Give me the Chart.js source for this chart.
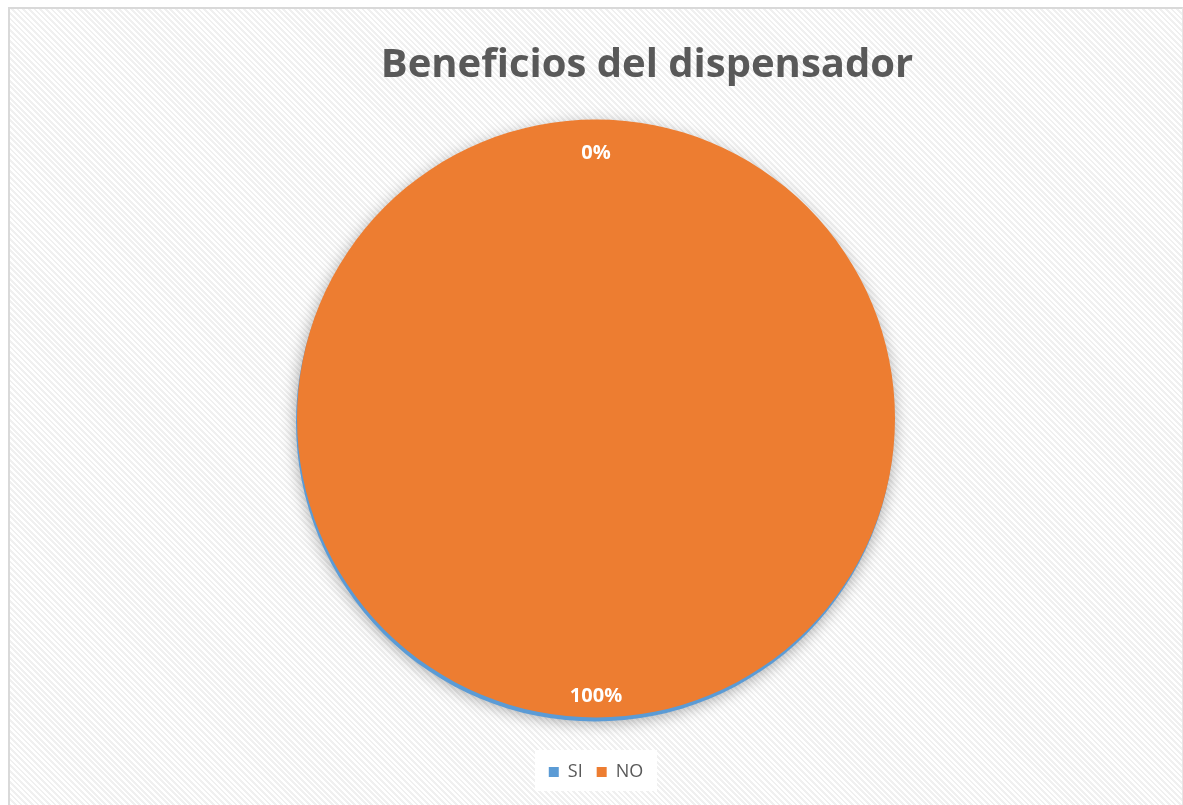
<!DOCTYPE html>
<html>
<head>
<meta charset="utf-8">
<script src="https://cdn.jsdelivr.net/npm/chart.js@4.4.0/dist/chart.umd.min.js"></script>
<style>
  html, body { margin: 0; padding: 0; width: 1183px; height: 805px; overflow: hidden; background: #ffffff; }
  #frame {
    position: absolute; left: 8px; top: 7px; width: 1172px; height: 800px;
    border-left: 2px solid #d9d9d9; border-top: 2px solid #d9d9d9; border-right: 1px solid #e6e6e6;
    background: repeating-linear-gradient(45deg, #ffffff 0px, #ffffff 2px, #f0f0f0 2px, #f0f0f0 4px);
  }
  #legendBg { position: absolute; left: 535px; top: 750px; width: 122px; height: 41px; background: #ffffff; }
  canvas { position: absolute; left: 0; top: 0; }
</style>
</head>
<body>
<div id="frame"></div>
<div id="legendBg"></div>
<canvas id="c" width="1183" height="805"></canvas>
<script>
const chartTitle = "Beneficios del dispensador";
const categories = ["SI", "NO"];
const values = [0, 100];
const sliceColors = ["#5B9BD5", "#ED7D31"];

const rimShadowPlugin = {
  id: "rimShadow",
  beforeDatasetsDraw(chart) {
    const arc = chart.getDatasetMeta(0).data[1];
    if (!arc) return;
    const ctx = chart.ctx;
    ctx.save();
    ctx.shadowColor = "rgba(0,0,0,0.35)";
    ctx.shadowBlur = 16;
    ctx.shadowOffsetX = 0;
    ctx.shadowOffsetY = 1;
    ctx.fillStyle = sliceColors[0];
    ctx.beginPath();
    ctx.arc(arc.x - 1, arc.y + 4, arc.outerRadius, 0, Math.PI * 2);
    ctx.fill();
    ctx.restore();
  }
};

const labelPlugin = {
  id: "pctLabels",
  afterDatasetsDraw(chart, args, opts) {
    const meta = chart.getDatasetMeta(0);
    const data = chart.data.datasets[0].data;
    const total = data.reduce((a, b) => a + b, 0);
    const ctx = chart.ctx;
    ctx.save();
    ctx.fillStyle = "#ffffff";
    ctx.font = "bold 20px 'Open Sans', sans-serif";
    ctx.textAlign = "center";
    ctx.textBaseline = "middle";
    meta.data.forEach((a, i) => {
      const mid = (a.startAngle + a.endAngle) / 2;
      const r = a.outerRadius * opts.factors[i];
      const pct = Math.round(data[i] / total * 100) + "%";
      ctx.fillText(pct, a.x + Math.cos(mid) * r, a.y + Math.sin(mid) * r);
    });
    ctx.restore();
  }
};

const titlePlugin = {
  id: "offsetTitle",
  afterDraw(chart) {
    const ctx = chart.ctx;
    const cx = (chart.chartArea.left + chart.chartArea.right) / 2;
    ctx.save();
    ctx.fillStyle = "#595959";
    ctx.font = "bold 40px 'Open Sans', sans-serif";
    ctx.textAlign = "center";
    ctx.textBaseline = "alphabetic";
    ctx.fillText(chartTitle, cx + 51, 77);
    ctx.restore();
  }
};

new Chart(document.getElementById("c"), {
  type: "pie",
  data: {
    labels: categories,
    datasets: [{
      data: values,
      backgroundColor: sliceColors,
      borderWidth: 0
    }]
  },
  options: {
    responsive: false,
    animation: false,
    layout: { padding: { top: 88, left: 297, right: 288, bottom: 14 } },
    plugins: {
      title: { display: false },
      tooltip: { enabled: false },
      pctLabels: { factors: [0.887, 0.93] },
      legend: {
        position: "bottom",
        labels: {
          boxWidth: 10,
          boxHeight: 10,
          padding: 14,
          color: "#595959",
          font: { family: "'Open Sans', sans-serif", size: 18 }
        }
      }
    }
  },
  plugins: [rimShadowPlugin, labelPlugin, titlePlugin]
});
</script>
</body>
</html>
